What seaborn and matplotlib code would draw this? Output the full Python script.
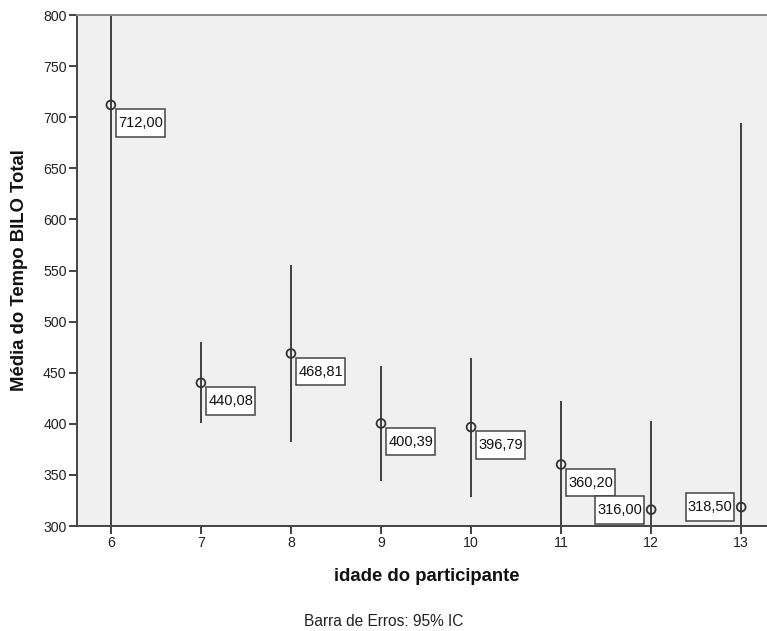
import matplotlib
matplotlib.use("Agg")
import matplotlib.pyplot as plt
from matplotlib.path import Path
import seaborn as sns
import pandas as pd
import numpy as np

# Data
ages = [6, 7, 8, 9, 10, 11, 12, 13]
means = [712.00, 440.08, 468.81, 400.39, 396.79, 360.20, 316.00, 318.50]
ci_lower = [112.0, 400.6, 381.8, 344.1, 328.8, 297.8, 229.0, -57.0]
ci_upper = [1312.0, 479.6, 555.8, 456.7, 464.8, 422.6, 403.0, 694.0]
labels = ["712,00", "440,08", "468,81", "400,39", "396,79", "360,20", "316,00", "318,50"]
label_side = ["right", "right", "right", "right", "right", "right", "left", "left"]

df = pd.DataFrame({"idade": ages, "media": means, "lo": ci_lower, "hi": ci_upper})

sns.set_theme(style="white")
plt.rcParams["font.family"] = ["Liberation Sans", "DejaVu Sans"]


def tall_box(x0, y0, width, height, mutation_size):
    px = 0.14 * mutation_size
    py = 0.47 * mutation_size
    x0, y0 = x0 - px, y0 - py
    x1, y1 = x0 + width + 2 * px, y0 + height + 2 * py
    return Path([(x0, y0), (x1, y0), (x1, y1), (x0, y1), (x0, y0)], closed=True)


fig = plt.figure(figsize=(7.67, 6.31), dpi=100)
ax = fig.add_axes([0.1004, 0.1664, 0.9, 0.8098])
ax.set_facecolor("#F0F0F0")

ax.vlines(df["idade"], df["lo"], df["hi"], colors="#333333", linewidth=1.3, zorder=2)
sns.scatterplot(data=df, x="idade", y="media", ax=ax, marker="o", s=40,
                facecolors="none", edgecolor="#333333", linewidth=1.3, zorder=3,
                legend=False)

for x, y, t, side in zip(ages, means, labels, label_side):
    box = dict(boxstyle=tall_box, fc="white", ec="#444444", lw=1.1)
    if side == "right":
        ax.annotate(t, (x, y), xytext=(5.2, -8.0), textcoords="offset points",
                    ha="left", va="top", fontsize=10.5, color="#111111",
                    bbox=box, zorder=4)
    else:
        ax.annotate(t, (x, y), xytext=(-6.3, 0), textcoords="offset points",
                    ha="right", va="center", fontsize=10.5, color="#111111",
                    bbox=box, zorder=4)

ax.set_xlim(5.624, 13.29)
ax.set_ylim(300, 800)
ax.set_xticks(ages)
ax.set_yticks(np.arange(300, 801, 50))
ax.tick_params(axis="both", direction="out", length=6, width=1.3, color="#333333",
               labelsize=10.2, labelcolor="#222222", left=True, bottom=True, pad=1.5)

for s in ["left", "bottom", "top"]:
    ax.spines[s].set_visible(True)
    ax.spines[s].set_color("#444444")
    ax.spines[s].set_linewidth(1.4)
ax.spines["top"].set_color("#888888")
ax.spines["right"].set_visible(False)

ax.set_xlabel("idade do participante", fontsize=13.3, fontweight="bold", color="#111111")
ax.set_ylabel("Média do Tempo BILO Total", fontsize=13.3, fontweight="bold", color="#111111")
ax.xaxis.set_label_coords(0.506, -0.0998)
ax.xaxis.label.set_va("center")
ax.yaxis.set_label_coords(-0.084, 0.5)
ax.yaxis.label.set_va("center")

fig.text(0.5, 1 - 621.5 / 631, "Barra de Erros: 95% IC", ha="center", va="center",
         fontsize=11.2, color="#222222")

fig.savefig("out.png", dpi=100)
